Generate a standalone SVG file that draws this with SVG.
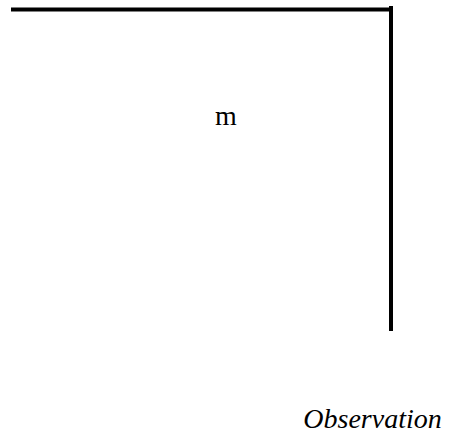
<svg xmlns="http://www.w3.org/2000/svg" width="451" height="438" viewBox="0 0 451 438">
<style>
.ln{fill:none;stroke:#000;stroke-width:4}
.t{font-family:"Liberation Serif",serif;fill:#000;font-size:28px}
</style>
<rect width="451" height="438" fill="#fff"/>
<g id="connectors">
<path class="ln" d="M11,9.5 H391 M391,6 V331"/>
</g>
<g id="node-m"><text class="t" x="226" y="125" text-anchor="middle">m</text></g>
<g id="node-observation"><text class="t" x="372.5" y="428" font-style="italic" text-anchor="middle">Observation</text></g>
</svg>
